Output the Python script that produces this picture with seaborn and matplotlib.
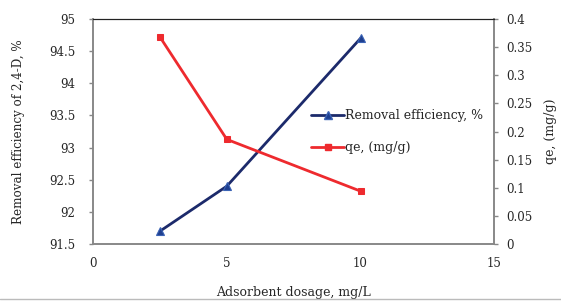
import matplotlib
matplotlib.use("Agg")
import matplotlib.pyplot as plt
from matplotlib.lines import Line2D
import seaborn as sns
import pandas as pd

# -------------------------------
# Data
# -------------------------------
dosage = [2.5, 5, 10]
removal_eff = [91.7, 92.4, 94.7]
qe = [0.368, 0.186, 0.094]

df = pd.DataFrame({"dosage": dosage, "removal": removal_eff, "qe": qe})

# -------------------------------
# Style
# -------------------------------
sns.set_style("white")
plt.rcParams['font.family'] = ['DejaVu Serif']
plt.rcParams['font.size'] = 8.5

blue = "#1c2a6b"
red = "#ee2a2e"
grey = "#888888"

fig = plt.figure(figsize=(5.61, 3.02), dpi=100)
ax = fig.add_axes([0.166, 0.192, 0.715, 0.745])
ax2 = ax.twinx()

sns.lineplot(data=df, x="dosage", y="removal", ax=ax, color=blue, lw=2,
             marker="^", markersize=6, markerfacecolor="#1f3f8f",
             markeredgecolor="#3b63b5", markeredgewidth=0.8)
sns.lineplot(data=df, x="dosage", y="qe", ax=ax2, color=red, lw=2,
             marker="s", markersize=5, markerfacecolor=red,
             markeredgecolor=red)

ax.set_xlim(0, 15)
ax.set_xticks([0, 5, 10, 15])
ax.set_ylim(91.5, 95)
ax.set_yticks([91.5, 92, 92.5, 93, 93.5, 94, 94.5, 95])
ax.set_yticklabels(["91.5", "92", "92.5", "93", "93.5", "94", "94.5", "95"])
ax2.set_ylim(0, 0.4)
ax2.set_yticks([0, 0.05, 0.1, 0.15, 0.2, 0.25, 0.3, 0.35, 0.4])
ax2.set_yticklabels(["0", "0.05", "0.1", "0.15", "0.2", "0.25", "0.3", "0.35", "0.4"])

ax.set_xlabel("Adsorbent dosage, mg/L", fontsize=9, labelpad=12)
ax.set_ylabel("Removal efficiency of 2,4-D, %", fontsize=8.6, labelpad=17)
ax2.set_ylabel("qe, (mg/g)", fontsize=9, labelpad=8)

for a in (ax, ax2):
    for s in ("left", "bottom", "right"):
        a.spines[s].set_color(grey)
        a.spines[s].set_linewidth(1.2)
    a.spines["top"].set_color("#222222")
    a.spines["top"].set_linewidth(0.8)
ax.tick_params(axis="x", length=3, width=1, color=grey, labelsize=8.5, pad=6)
ax.tick_params(axis="y", length=3, width=1, color=grey, labelsize=8.5, pad=10)
ax2.tick_params(axis="y", length=3, width=1, color=grey, labelsize=8.5, pad=6)

handles = [
    Line2D([], [], color=blue, lw=2, marker="^", markersize=6,
           markerfacecolor="#1f3f8f", markeredgecolor="#3b63b5"),
    Line2D([], [], color=red, lw=2, marker="s", markersize=5,
           markerfacecolor=red, markeredgecolor=red),
]
fig.legend(handles, ["Removal efficiency, %", "qe, (mg/g)"], loc="upper left",
           bbox_to_anchor=(0.535, 0.675), frameon=False, fontsize=9,
           handlelength=2.6, handletextpad=0.1, labelspacing=1.5)

fig.add_artist(Line2D([0, 1], [0.01, 0.01], color="#bbbbbb", lw=1))

fig.savefig("out.png", dpi=100)
